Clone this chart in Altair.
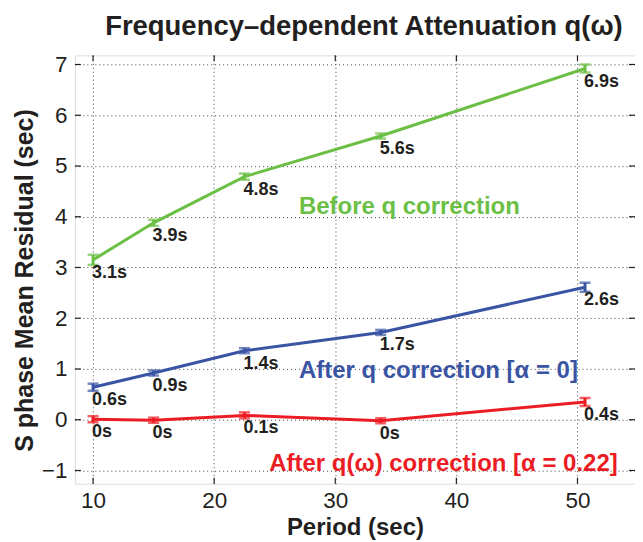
import altair as alt
import pandas as pd

# ---- data ----
periods = [10, 15, 22.5, 33.75, 50.625]
series_names = ["Before q correction", "After q correction", "After q(w) correction"]

before_vals = [3.15, 3.88, 4.79, 5.59, 6.92]
before_err = [0.10, 0.06, 0.06, 0.05, 0.08]
before_labels = ["3.1s", "3.9s", "4.8s", "5.6s", "6.9s"]

afterq_vals = [0.64, 0.92, 1.36, 1.72, 2.61]
afterq_err = [0.07, 0.05, 0.05, 0.05, 0.09]
afterq_labels = ["0.6s", "0.9s", "1.4s", "1.7s", "2.6s"]

afterqw_vals = [0.01, -0.01, 0.085, -0.02, 0.35]
afterqw_err = [0.06, 0.05, 0.06, 0.05, 0.08]
afterqw_labels = ["0s", "0s", "0.1s", "0s", "0.4s"]

colors = ["#6cbf45", "#3a54a4", "#ec1c24"]

annot_texts = ["Before q correction", "After q correction [\u03b1 = 0]",
               "After q(\u03c9) correction [\u03b1 = 0.22]"]
annot_x = [27.0, 27.0, 24.55]
annot_y = [4.06, 0.83, -1.02]

x_ticks = [10, 20, 30, 40, 50]
y_ticks = [-1, 0, 1, 2, 3, 4, 5, 6, 7]
x_domain = [8.5, 54.75]
y_domain = [-1.26, 7.18]

# ---- build table ----
rows = []
for name, vals, errs, labs in zip(series_names,
                                  [before_vals, afterq_vals, afterqw_vals],
                                  [before_err, afterq_err, afterqw_err],
                                  [before_labels, afterq_labels, afterqw_labels]):
    for p, v, e, l in zip(periods, vals, errs, labs):
        rows.append({"series": name, "period": p, "value": v,
                     "lo": v - e, "hi": v + e, "label": l})
df = pd.DataFrame(rows)
annot_df = pd.DataFrame({"series": series_names, "text": annot_texts,
                         "period": annot_x, "value": annot_y})
xt_df = pd.DataFrame({"t": x_ticks})
yt_df = pd.DataFrame({"t": y_ticks})

FONT = "Liberation Sans"
TXT = "#231f20"
W, H = 561, 429

x_axis = alt.Axis(values=x_ticks, grid=True, gridDash=[1, 3], gridColor="#444",
                  gridWidth=1, ticks=False, tickSize=0, domain=False,
                  labelFont=FONT, labelFontSize=22.5, labelColor=TXT, labelPadding=6,
                  title="Period (sec)", titleFont=FONT, titleFontSize=24,
                  titleFontWeight="bold", titleColor=TXT,
                  titleBaseline="alphabetic", titleY=51)
y_axis = alt.Axis(values=y_ticks, grid=True, gridDash=[1, 3], gridColor="#444",
                  gridWidth=1, ticks=False, tickSize=0, domain=False,
                  labelFont=FONT, labelFontSize=22.5, labelColor=TXT, labelPadding=8,
                  title="S phase Mean Residual (sec)", titleFont=FONT,
                  titleFontSize=25, titleFontWeight="bold", titleColor=TXT,
                  titleAngle=270, titleAlign="center", titleBaseline="alphabetic",
                  titleX=-42, titleY=225)

xs = alt.Scale(domain=x_domain, nice=False, zero=False)
ys = alt.Scale(domain=y_domain, nice=False, zero=False)
cs = alt.Scale(domain=series_names, range=colors)


def X(f):
    return alt.X(f, type="quantitative", scale=xs, axis=x_axis)


def Y(f):
    return alt.Y(f, type="quantitative", scale=ys, axis=y_axis)


col = alt.Color("series:N", scale=cs, legend=None)

base = alt.Chart(df)
lines = base.mark_line(strokeWidth=3).encode(x=X("period"), y=Y("value"), color=col,
                                             detail="series:N")
bars = base.mark_rule(strokeWidth=3).encode(x=X("period"), y=Y("lo"), y2="hi", color=col)
cap_lo = base.mark_tick(orient="horizontal", size=11, thickness=2.5).encode(
    x=X("period"), y=Y("lo"), color=col)
cap_hi = base.mark_tick(orient="horizontal", size=11, thickness=2.5).encode(
    x=X("period"), y=Y("hi"), color=col)
labels = base.mark_text(align="left", baseline="top", dx=-1, dy=4, font=FONT,
                        fontSize=18, fontWeight="bold", color=TXT).encode(
    x=X("period"), y=Y("value"), text="label:N")
annots = alt.Chart(annot_df).mark_text(align="left", baseline="alphabetic", font=FONT,
                                       fontSize=24, fontWeight="bold").encode(
    x=X("period"), y=Y("value"), text="text:N", color=col)

xt_bot = alt.Chart(xt_df).mark_rule(color=TXT, strokeWidth=1.2).encode(
    x=X("t"), y=alt.value(H), y2=alt.value(H - 6))
xt_top = alt.Chart(xt_df).mark_rule(color=TXT, strokeWidth=1.2).encode(
    x=X("t"), y=alt.value(0), y2=alt.value(6))
yt_left = alt.Chart(yt_df).mark_rule(color=TXT, strokeWidth=1.2).encode(
    y=Y("t"), x=alt.value(0), x2=alt.value(6))
yt_right = alt.Chart(yt_df).mark_rule(color=TXT, strokeWidth=1.2).encode(
    y=Y("t"), x=alt.value(W), x2=alt.value(W - 6))

chart = alt.layer(xt_bot, xt_top, yt_left, yt_right, lines, bars, cap_lo, cap_hi,
                  labels, annots).properties(
    width=W, height=H,
    autosize=alt.AutoSizeParams(type="none"),
    padding={"left": 67, "top": 47, "right": 0, "bottom": 58},
    title=alt.TitleParams("Frequency\u2013dependent Attenuation q(\u03c9)", font=FONT,
                          fontSize=27.5, fontWeight="bold", color=TXT, anchor="middle",
                          dx=9, offset=13),
).configure_view(stroke="#222", strokeWidth=1.8).configure(background="white")

chart.save("out.html", embed_options={"renderer": "svg", "actions": False})
